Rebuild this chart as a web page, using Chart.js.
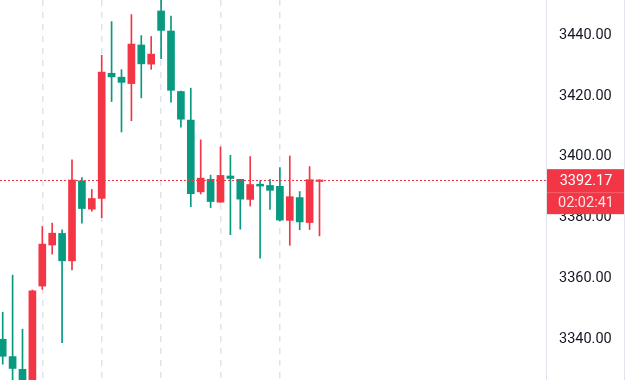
<!DOCTYPE html>
<html lang="en">
<head>
    <meta charset="UTF-8">
    <title>Price Candles</title>
    <style>
        body {
            margin: 0;
            background: #fff;
        }
        #chart {
            display: block;
        }
    </style>
</head>
<body>
    <canvas id="chart" width="626" height="380"></canvas>
    <script src="https://cdn.jsdelivr.net/npm/chart.js@4"></script>
    <script>
        // candle values (one entry per bar, left to right)
        const opens  = [3340.0, 3334.3, 3330.1, 3318.0, 3357.5, 3371.0, 3374.8, 3365.8, 3392.1, 3382.8,
                        3386.3, 3427.5, 3426.2, 3424.1, 3436.8, 3430.5, 3448.0, 3441.4, 3421.5, 3412.1,
                        3388.5, 3392.6, 3385.1, 3393.7, 3392.6, 3386.0, 3391.0, 3390.6, 3390.3, 3379.1,
                        3386.6, 3378.4, 3391.9];
        const highs  = [3348.9, 3361.1, 3343.3, 3356.2, 3377.1, 3378.2, 3376.0, 3399.0, 3393.2, 3389.3,
                        3433.4, 3444.5, 3428.7, 3446.8, 3439.9, 3439.6, 3454.0, 3446.3, 3421.6, 3422.6,
                        3405.6, 3394.0, 3403.3, 3400.5, 3392.6, 3400.1, 3392.1, 3392.6, 3396.5, 3400.3,
                        3388.6, 3396.8, 3392.5];
        const lows   = [3331.8, 3322.0, 3320.0, 3316.0, 3356.4, 3368.0, 3338.9, 3362.8, 3378.2, 3382.1,
                        3380.0, 3418.2, 3408.2, 3411.9, 3419.4, 3428.8, 3432.3, 3418.0, 3409.8, 3383.6,
                        3387.8, 3383.3, 3385.0, 3374.4, 3376.2, 3383.8, 3366.7, 3382.7, 3378.9, 3370.9,
                        3376.0, 3376.1, 3374.0];
        const closes = [3334.4, 3330.4, 3324.0, 3355.9, 3371.3, 3374.9, 3365.8, 3392.4, 3383.0, 3386.3,
                        3427.9, 3426.3, 3424.5, 3437.1, 3430.6, 3433.8, 3441.6, 3421.9, 3412.4, 3387.9,
                        3393.0, 3385.3, 3393.9, 3392.9, 3386.1, 3390.9, 3390.4, 3389.0, 3379.2, 3386.9,
                        3378.6, 3392.5, 3392.17];
        const priceTicks = [3340, 3360, 3380, 3400, 3420, 3440];
        const timeMarks = [4, 10, 16, 22, 28];
        const lastPrice = 3392.17;
        const countdown = '02:02:41';

        const UP = '#f23645';
        const DOWN = '#089981';
        const colors = closes.map((c, i) => c >= opens[i] ? UP : DOWN);

        const wicks = lows.map((l, i) => ({ x: i, y: [l, highs[i]] }));
        const bodies = opens.map((o, i) => ({ x: i, y: [o, closes[i]] }));

        const noPad = s => {
            s.paddingTop = 0;
            s.paddingBottom = 0;
            s.paddingLeft = 0;
            s.paddingRight = 0;
        };

        const priceTag = {
            id: 'priceTag',
            afterDatasetsDraw(chart) {
                const { ctx, chartArea, scales: { y } } = chart;
                const py = Math.round(y.getPixelForValue(lastPrice)) - 1;
                ctx.save();
                ctx.fillStyle = UP;
                for (let x = chartArea.left; x < chartArea.right; x += 4) {
                    ctx.fillRect(x, py, 2, 1);
                }
                ctx.restore();
            },
            afterDraw(chart) {
                const { ctx, chartArea, scales: { y } } = chart;
                const py = y.getPixelForValue(lastPrice);
                const left = chartArea.right + 1;
                const top = py - 11.5;
                ctx.save();
                ctx.fillStyle = UP;
                ctx.fillRect(left, top, 77, 45);
                ctx.fillStyle = 'rgba(255,255,255,0.22)';
                ctx.fillRect(left, top + 23, 77, 1);
                ctx.textAlign = 'center';
                ctx.textBaseline = 'middle';
                ctx.font = '14.5px Roboto';
                ctx.fillStyle = '#ffffff';
                ctx.fillText(lastPrice.toFixed(2), left + 39, top + 12);
                ctx.fillStyle = 'rgba(255,255,255,0.85)';
                ctx.fillText(countdown, left + 39, top + 34);
                // right edge of the price pane
                ctx.fillStyle = '#e0e3eb';
                ctx.fillRect(624, 0, 1, chart.height);
                ctx.restore();
            }
        };

        new Chart(document.getElementById('chart'), {
            type: 'bar',
            data: {
                datasets: [
                    {
                        label: 'wick',
                        data: wicks,
                        backgroundColor: colors,
                        barThickness: 1,
                        grouped: false,
                        order: 2
                    },
                    {
                        label: 'body',
                        data: bodies,
                        backgroundColor: colors,
                        barThickness: 7,
                        minBarLength: 1.5,
                        grouped: false,
                        order: 1
                    }
                ]
            },
            options: {
                responsive: false,
                animation: false,
                layout: { padding: 0 },
                plugins: {
                    legend: { display: false },
                    tooltip: { enabled: false }
                },
                scales: {
                    x: {
                        type: 'linear',
                        offset: false,
                        min: -0.273,
                        max: 54.88,
                        afterBuildTicks: s => { s.ticks = timeMarks.map(v => ({ value: v })); },
                        afterFit: s => { s.height = 0; noPad(s); },
                        ticks: { display: false },
                        grid: { color: '#e0e3eb', lineWidth: 1.5, drawTicks: false, offset: false },
                        border: { display: false, dash: [6, 6] }
                    },
                    y: {
                        position: 'right',
                        min: 3326.6,
                        max: 3451.6,
                        afterBuildTicks: s => { s.ticks = priceTicks.map(v => ({ value: v })); },
                        afterFit: s => { s.width = 80; noPad(s); },
                        grid: { display: false, drawTicks: false },
                        border: { display: true, color: '#e0e3eb', width: 1 },
                        ticks: {
                            padding: 13,
                            color: '#131722',
                            font: { family: 'Roboto', size: 14.5 },
                            callback: v => v.toFixed(2)
                        }
                    }
                }
            },
            plugins: [priceTag]
        });
    </script>
</body>
</html>
